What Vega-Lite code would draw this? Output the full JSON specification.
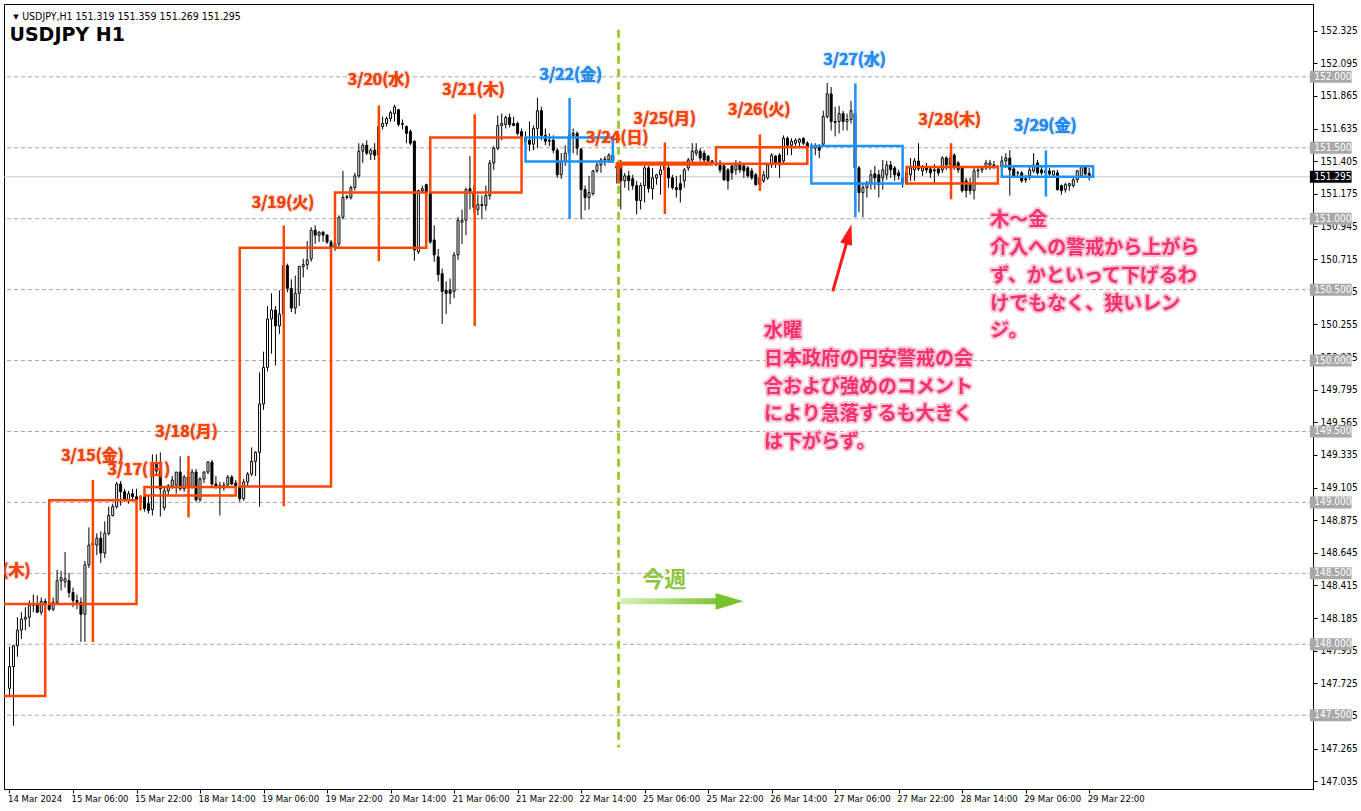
{
"$schema":"https://vega.github.io/schema/vega-lite/v6.json",
"width":1309,"height":785,
"autosize":{"type":"none"},
"padding":{"left":4,"top":4,"right":48,"bottom":22},
"background":"white",
"config":{"view":{"stroke":"black","strokeWidth":1}},
"resolve":{"axis":{"x":"independent","y":"independent"}},
"datasets":{
"h1":[
{"i":0,"o":147.690,"h":147.982,"l":147.635,"c":147.843},
{"i":1,"o":147.843,"h":147.996,"l":147.426,"c":147.989},
{"i":2,"o":147.989,"h":148.191,"l":147.912,"c":148.100},
{"i":3,"o":148.100,"h":148.226,"l":148.038,"c":148.177},
{"i":4,"o":148.177,"h":148.261,"l":148.100,"c":148.191},
{"i":5,"o":148.191,"h":148.309,"l":148.122,"c":148.275},
{"i":6,"o":148.275,"h":148.351,"l":148.226,"c":148.282},
{"i":7,"o":148.282,"h":148.344,"l":148.219,"c":148.226},
{"i":8,"o":148.226,"h":148.330,"l":148.205,"c":148.302},
{"i":9,"o":148.302,"h":148.323,"l":148.205,"c":148.282},
{"i":10,"o":148.282,"h":148.309,"l":148.233,"c":148.247},
{"i":11,"o":148.247,"h":148.330,"l":148.233,"c":148.296},
{"i":12,"o":148.296,"h":148.525,"l":148.282,"c":148.448},
{"i":13,"o":148.448,"h":148.518,"l":148.379,"c":148.469},
{"i":14,"o":148.441,"h":148.650,"l":148.400,"c":148.462},
{"i":15,"o":148.448,"h":148.504,"l":148.330,"c":148.365},
{"i":16,"o":148.365,"h":148.400,"l":148.261,"c":148.309},
{"i":17,"o":148.309,"h":148.351,"l":148.247,"c":148.296},
{"i":18,"o":148.296,"h":148.330,"l":148.017,"c":148.212},
{"i":19,"o":148.212,"h":148.588,"l":148.017,"c":148.560},
{"i":20,"o":148.560,"h":148.824,"l":148.539,"c":148.699},
{"i":21,"o":148.699,"h":148.768,"l":148.678,"c":148.713},
{"i":22,"o":148.699,"h":148.782,"l":148.629,"c":148.748},
{"i":23,"o":148.748,"h":148.796,"l":148.574,"c":148.643},
{"i":24,"o":148.643,"h":148.866,"l":148.608,"c":148.782},
{"i":25,"o":148.782,"h":148.970,"l":148.768,"c":148.908},
{"i":26,"o":148.908,"h":148.991,"l":148.901,"c":148.970},
{"i":27,"o":148.970,"h":149.144,"l":148.956,"c":149.130},
{"i":28,"o":149.130,"h":149.151,"l":148.977,"c":149.075},
{"i":29,"o":149.075,"h":149.096,"l":149.005,"c":149.019},
{"i":30,"o":149.019,"h":149.082,"l":148.991,"c":149.061},
{"i":31,"o":149.061,"h":149.096,"l":149.005,"c":149.040},
{"i":32,"o":149.040,"h":149.096,"l":148.977,"c":149.019},
{"i":33,"o":149.026,"h":149.047,"l":148.943,"c":149.040},
{"i":34,"o":149.040,"h":149.082,"l":148.936,"c":148.956},
{"i":35,"o":148.991,"h":149.047,"l":148.922,"c":148.943},
{"i":36,"o":148.949,"h":149.339,"l":148.908,"c":149.270},
{"i":37,"o":149.270,"h":149.339,"l":149.200,"c":149.221},
{"i":38,"o":149.221,"h":149.353,"l":148.901,"c":149.096},
{"i":39,"o":148.963,"h":149.110,"l":148.943,"c":149.082},
{"i":40,"o":149.082,"h":149.130,"l":149.047,"c":149.117},
{"i":41,"o":149.117,"h":149.186,"l":149.096,"c":149.158},
{"i":42,"o":149.123,"h":149.214,"l":149.061,"c":149.214},
{"i":43,"o":149.214,"h":149.325,"l":149.082,"c":149.096},
{"i":44,"o":149.096,"h":149.193,"l":149.075,"c":149.179},
{"i":45,"o":149.179,"h":149.228,"l":149.096,"c":149.110},
{"i":46,"o":149.110,"h":149.235,"l":149.096,"c":149.214},
{"i":47,"o":149.214,"h":149.235,"l":149.005,"c":149.019},
{"i":48,"o":149.019,"h":149.179,"l":149.005,"c":149.165},
{"i":49,"o":149.165,"h":149.221,"l":149.137,"c":149.214},
{"i":50,"o":149.214,"h":149.290,"l":149.200,"c":149.284},
{"i":51,"o":149.284,"h":149.298,"l":149.117,"c":149.130},
{"i":52,"o":149.130,"h":149.186,"l":149.096,"c":149.117},
{"i":53,"o":149.117,"h":149.144,"l":148.908,"c":149.103},
{"i":54,"o":149.103,"h":149.144,"l":149.082,"c":149.123},
{"i":55,"o":149.123,"h":149.193,"l":149.117,"c":149.179},
{"i":56,"o":149.179,"h":149.193,"l":149.123,"c":149.130},
{"i":57,"o":149.137,"h":149.158,"l":149.082,"c":149.110},
{"i":58,"o":149.110,"h":149.123,"l":149.005,"c":149.026},
{"i":59,"o":149.026,"h":149.165,"l":149.012,"c":149.144},
{"i":60,"o":149.144,"h":149.214,"l":149.110,"c":149.200},
{"i":61,"o":149.200,"h":149.388,"l":149.186,"c":149.290},
{"i":62,"o":149.290,"h":149.360,"l":149.186,"c":149.353},
{"i":63,"o":149.353,"h":149.917,"l":148.970,"c":149.694},
{"i":64,"o":149.694,"h":150.063,"l":149.653,"c":149.952},
{"i":65,"o":149.952,"h":150.384,"l":149.924,"c":150.293},
{"i":66,"o":150.293,"h":150.474,"l":150.049,"c":150.356},
{"i":67,"o":150.356,"h":150.384,"l":149.966,"c":150.244},
{"i":68,"o":150.244,"h":150.495,"l":150.188,"c":150.328},
{"i":69,"o":150.328,"h":150.683,"l":150.293,"c":150.669},
{"i":70,"o":150.669,"h":150.683,"l":150.481,"c":150.509},
{"i":71,"o":150.509,"h":150.572,"l":150.342,"c":150.370},
{"i":72,"o":150.370,"h":150.599,"l":150.328,"c":150.474},
{"i":73,"o":150.474,"h":150.669,"l":150.384,"c":150.662},
{"i":74,"o":150.662,"h":150.717,"l":150.585,"c":150.676},
{"i":75,"o":150.676,"h":150.843,"l":150.641,"c":150.710},
{"i":76,"o":150.717,"h":150.940,"l":150.697,"c":150.919},
{"i":77,"o":150.919,"h":150.954,"l":150.822,"c":150.884},
{"i":78,"o":150.884,"h":150.912,"l":150.836,"c":150.905},
{"i":79,"o":150.905,"h":150.912,"l":150.836,"c":150.884},
{"i":80,"o":150.884,"h":150.891,"l":150.822,"c":150.836},
{"i":81,"o":150.836,"h":150.850,"l":150.787,"c":150.794},
{"i":82,"o":150.794,"h":150.836,"l":150.773,"c":150.822},
{"i":83,"o":150.822,"h":151.024,"l":150.801,"c":151.010},
{"i":84,"o":151.010,"h":151.337,"l":150.996,"c":151.149},
{"i":85,"o":151.149,"h":151.170,"l":151.135,"c":151.156},
{"i":86,"o":151.149,"h":151.233,"l":151.135,"c":151.219},
{"i":87,"o":151.219,"h":151.323,"l":151.198,"c":151.302},
{"i":88,"o":151.302,"h":151.532,"l":151.288,"c":151.476},
{"i":89,"o":151.476,"h":151.532,"l":151.393,"c":151.518},
{"i":90,"o":151.518,"h":151.553,"l":151.448,"c":151.462},
{"i":91,"o":151.455,"h":151.497,"l":151.414,"c":151.483},
{"i":92,"o":151.483,"h":151.532,"l":151.414,"c":151.448},
{"i":93,"o":151.448,"h":151.685,"l":151.393,"c":151.650},
{"i":94,"o":151.650,"h":151.720,"l":151.629,"c":151.671},
{"i":95,"o":151.671,"h":151.720,"l":151.650,"c":151.706},
{"i":96,"o":151.706,"h":151.761,"l":151.685,"c":151.747},
{"i":97,"o":151.741,"h":151.803,"l":151.685,"c":151.789},
{"i":98,"o":151.768,"h":151.775,"l":151.650,"c":151.664},
{"i":99,"o":151.664,"h":151.699,"l":151.629,"c":151.671},
{"i":100,"o":151.650,"h":151.657,"l":151.532,"c":151.601},
{"i":101,"o":151.615,"h":151.629,"l":151.518,"c":151.532},
{"i":102,"o":151.546,"h":151.553,"l":150.704,"c":150.780},
{"i":103,"o":150.766,"h":151.205,"l":150.752,"c":151.198},
{"i":104,"o":151.198,"h":151.233,"l":151.184,"c":151.212},
{"i":105,"o":151.240,"h":151.247,"l":151.177,"c":151.184},
{"i":106,"o":151.184,"h":151.219,"l":150.822,"c":150.836},
{"i":107,"o":150.850,"h":150.954,"l":150.697,"c":150.745},
{"i":108,"o":150.731,"h":150.787,"l":150.558,"c":150.606},
{"i":109,"o":150.613,"h":150.648,"l":150.258,"c":150.488},
{"i":110,"o":150.495,"h":150.558,"l":150.328,"c":150.474},
{"i":111,"o":150.495,"h":150.578,"l":150.397,"c":150.474},
{"i":112,"o":150.488,"h":150.766,"l":150.439,"c":150.745},
{"i":113,"o":150.745,"h":151.010,"l":150.710,"c":150.989},
{"i":114,"o":150.975,"h":151.065,"l":150.822,"c":150.989},
{"i":115,"o":150.989,"h":151.219,"l":150.884,"c":151.205},
{"i":116,"o":151.212,"h":151.441,"l":151.065,"c":151.191},
{"i":117,"o":151.191,"h":151.233,"l":151.045,"c":151.079},
{"i":118,"o":151.065,"h":151.170,"l":151.024,"c":151.100},
{"i":119,"o":151.100,"h":151.163,"l":150.996,"c":151.093},
{"i":120,"o":151.093,"h":151.233,"l":151.058,"c":151.163},
{"i":121,"o":151.163,"h":151.414,"l":151.135,"c":151.393},
{"i":122,"o":151.393,"h":151.511,"l":151.344,"c":151.497},
{"i":123,"o":151.497,"h":151.727,"l":151.483,"c":151.657},
{"i":124,"o":151.657,"h":151.741,"l":151.553,"c":151.671},
{"i":125,"o":151.664,"h":151.727,"l":151.636,"c":151.713},
{"i":126,"o":151.713,"h":151.741,"l":151.643,"c":151.664},
{"i":127,"o":151.671,"h":151.720,"l":151.650,"c":151.657},
{"i":128,"o":151.671,"h":151.685,"l":151.587,"c":151.601},
{"i":129,"o":151.615,"h":151.636,"l":151.567,"c":151.573},
{"i":130,"o":151.573,"h":151.615,"l":151.518,"c":151.546},
{"i":131,"o":151.553,"h":151.685,"l":151.476,"c":151.525},
{"i":132,"o":151.525,"h":151.657,"l":151.483,"c":151.636},
{"i":133,"o":151.636,"h":151.852,"l":151.497,"c":151.761},
{"i":134,"o":151.761,"h":151.789,"l":151.553,"c":151.587},
{"i":135,"o":151.587,"h":151.636,"l":151.518,"c":151.546},
{"i":136,"o":151.546,"h":151.601,"l":151.511,"c":151.553},
{"i":137,"o":151.553,"h":151.587,"l":151.462,"c":151.483},
{"i":138,"o":151.483,"h":151.497,"l":151.288,"c":151.309},
{"i":139,"o":151.309,"h":151.462,"l":151.281,"c":151.407},
{"i":140,"o":151.407,"h":151.518,"l":151.372,"c":151.462},
{"i":141,"o":151.462,"h":151.622,"l":151.441,"c":151.587},
{"i":142,"o":151.587,"h":151.636,"l":151.462,"c":151.601},
{"i":143,"o":151.601,"h":151.615,"l":151.448,"c":151.497},
{"i":144,"o":151.490,"h":151.497,"l":150.996,"c":151.205},
{"i":145,"o":151.205,"h":151.233,"l":151.058,"c":151.149},
{"i":146,"o":151.149,"h":151.302,"l":151.065,"c":151.184},
{"i":147,"o":151.177,"h":151.344,"l":151.163,"c":151.337},
{"i":148,"o":151.337,"h":151.407,"l":151.323,"c":151.379},
{"i":149,"o":151.379,"h":151.428,"l":151.323,"c":151.414},
{"i":150,"o":151.414,"h":151.441,"l":151.372,"c":151.421},
{"i":151,"o":151.414,"h":151.462,"l":151.393,"c":151.448},
{"i":152,"o":151.448,"h":151.462,"l":151.393,"c":151.407},
{"i":153,"o":151.358,"h":151.400,"l":151.247,"c":151.372},
{"i":154,"o":151.372,"h":151.414,"l":151.065,"c":151.267},
{"i":155,"o":151.267,"h":151.323,"l":151.219,"c":151.302},
{"i":156,"o":151.302,"h":151.337,"l":151.198,"c":151.267},
{"i":157,"o":151.281,"h":151.309,"l":151.205,"c":151.233},
{"i":158,"o":151.233,"h":151.267,"l":151.031,"c":151.128},
{"i":159,"o":151.128,"h":151.253,"l":151.065,"c":151.233},
{"i":160,"o":151.233,"h":151.372,"l":151.114,"c":151.358},
{"i":161,"o":151.358,"h":151.372,"l":151.184,"c":151.212},
{"i":162,"o":151.212,"h":151.358,"l":151.135,"c":151.288},
{"i":163,"o":151.288,"h":151.316,"l":151.240,"c":151.309},
{"i":164,"o":151.309,"h":151.372,"l":151.170,"c":151.344},
{"i":165,"o":151.344,"h":151.393,"l":151.309,"c":151.372},
{"i":166,"o":151.358,"h":151.386,"l":151.219,"c":151.288},
{"i":167,"o":151.288,"h":151.309,"l":151.205,"c":151.219},
{"i":168,"o":151.219,"h":151.302,"l":151.149,"c":151.205},
{"i":169,"o":151.247,"h":151.309,"l":151.114,"c":151.205},
{"i":170,"o":151.267,"h":151.358,"l":151.219,"c":151.344},
{"i":171,"o":151.358,"h":151.428,"l":151.337,"c":151.414},
{"i":172,"o":151.414,"h":151.532,"l":151.393,"c":151.476},
{"i":173,"o":151.462,"h":151.532,"l":151.441,"c":151.483},
{"i":174,"o":151.476,"h":151.497,"l":151.407,"c":151.428},
{"i":175,"o":151.462,"h":151.483,"l":151.393,"c":151.414},
{"i":176,"o":151.441,"h":151.448,"l":151.379,"c":151.407},
{"i":177,"o":151.407,"h":151.414,"l":151.379,"c":151.386},
{"i":178,"o":151.393,"h":151.407,"l":151.372,"c":151.379},
{"i":179,"o":151.393,"h":151.414,"l":151.323,"c":151.344},
{"i":180,"o":151.372,"h":151.379,"l":151.267,"c":151.274},
{"i":181,"o":151.344,"h":151.358,"l":151.205,"c":151.267},
{"i":182,"o":151.372,"h":151.393,"l":151.274,"c":151.323},
{"i":183,"o":151.344,"h":151.414,"l":151.309,"c":151.379},
{"i":184,"o":151.386,"h":151.407,"l":151.323,"c":151.344},
{"i":185,"o":151.372,"h":151.386,"l":151.288,"c":151.337},
{"i":186,"o":151.358,"h":151.372,"l":151.288,"c":151.302},
{"i":187,"o":151.337,"h":151.358,"l":151.274,"c":151.288},
{"i":188,"o":151.309,"h":151.323,"l":151.233,"c":151.240},
{"i":189,"o":151.240,"h":151.302,"l":151.198,"c":151.288},
{"i":190,"o":151.267,"h":151.337,"l":151.253,"c":151.309},
{"i":191,"o":151.288,"h":151.393,"l":151.274,"c":151.379},
{"i":192,"o":151.379,"h":151.462,"l":151.358,"c":151.448},
{"i":193,"o":151.441,"h":151.448,"l":151.358,"c":151.393},
{"i":194,"o":151.448,"h":151.462,"l":151.288,"c":151.379},
{"i":195,"o":151.407,"h":151.587,"l":151.393,"c":151.567},
{"i":196,"o":151.567,"h":151.580,"l":151.448,"c":151.518},
{"i":197,"o":151.518,"h":151.567,"l":151.448,"c":151.546},
{"i":198,"o":151.532,"h":151.567,"l":151.497,"c":151.553},
{"i":199,"o":151.539,"h":151.567,"l":151.511,"c":151.560},
{"i":200,"o":151.567,"h":151.573,"l":151.518,"c":151.532},
{"i":201,"o":151.532,"h":151.546,"l":151.497,"c":151.504},
{"i":202,"o":151.511,"h":151.532,"l":151.462,"c":151.497},
{"i":203,"o":151.497,"h":151.532,"l":151.448,"c":151.511},
{"i":204,"o":151.511,"h":151.525,"l":151.428,"c":151.483},
{"i":205,"o":151.525,"h":151.761,"l":151.511,"c":151.720},
{"i":206,"o":151.720,"h":151.956,"l":151.706,"c":151.880},
{"i":207,"o":151.880,"h":151.928,"l":151.622,"c":151.685},
{"i":208,"o":151.685,"h":151.789,"l":151.580,"c":151.678},
{"i":209,"o":151.685,"h":151.796,"l":151.601,"c":151.741},
{"i":210,"o":151.741,"h":151.761,"l":151.622,"c":151.685},
{"i":211,"o":151.685,"h":151.741,"l":151.622,"c":151.699},
{"i":212,"o":151.699,"h":151.831,"l":151.671,"c":151.761},
{"i":213,"o":151.741,"h":151.775,"l":151.114,"c":151.358},
{"i":214,"o":151.358,"h":151.372,"l":151.045,"c":151.184},
{"i":215,"o":151.184,"h":151.253,"l":151.010,"c":151.219},
{"i":216,"o":151.219,"h":151.267,"l":151.149,"c":151.253},
{"i":217,"o":151.253,"h":151.344,"l":151.205,"c":151.309},
{"i":218,"o":151.316,"h":151.372,"l":151.205,"c":151.288},
{"i":219,"o":151.309,"h":151.344,"l":151.149,"c":151.240},
{"i":220,"o":151.288,"h":151.414,"l":151.205,"c":151.344},
{"i":221,"o":151.309,"h":151.407,"l":151.274,"c":151.379},
{"i":222,"o":151.379,"h":151.407,"l":151.288,"c":151.344},
{"i":223,"o":151.358,"h":151.372,"l":151.267,"c":151.309},
{"i":224,"o":151.323,"h":151.344,"l":151.274,"c":151.302},
{"i":225,"o":151.288,"h":151.323,"l":151.219,"c":151.247},
{"i":226,"o":151.247,"h":151.372,"l":151.240,"c":151.323},
{"i":227,"o":151.309,"h":151.428,"l":151.267,"c":151.358},
{"i":228,"o":151.344,"h":151.428,"l":151.267,"c":151.407},
{"i":229,"o":151.407,"h":151.532,"l":151.337,"c":151.351},
{"i":230,"o":151.337,"h":151.379,"l":151.302,"c":151.358},
{"i":231,"o":151.358,"h":151.393,"l":151.323,"c":151.344},
{"i":232,"o":151.351,"h":151.372,"l":151.288,"c":151.323},
{"i":233,"o":151.344,"h":151.386,"l":151.253,"c":151.337},
{"i":234,"o":151.351,"h":151.372,"l":151.302,"c":151.323},
{"i":235,"o":151.344,"h":151.441,"l":151.323,"c":151.428},
{"i":236,"o":151.428,"h":151.441,"l":151.344,"c":151.379},
{"i":237,"o":151.379,"h":151.462,"l":151.337,"c":151.428},
{"i":238,"o":151.448,"h":151.462,"l":151.344,"c":151.372},
{"i":239,"o":151.393,"h":151.407,"l":151.323,"c":151.344},
{"i":240,"o":151.358,"h":151.372,"l":151.184,"c":151.198},
{"i":241,"o":151.267,"h":151.288,"l":151.149,"c":151.198},
{"i":242,"o":151.253,"h":151.288,"l":151.170,"c":151.198},
{"i":243,"o":151.198,"h":151.358,"l":151.135,"c":151.337},
{"i":244,"o":151.337,"h":151.372,"l":151.288,"c":151.344},
{"i":245,"o":151.344,"h":151.372,"l":151.323,"c":151.358},
{"i":246,"o":151.358,"h":151.414,"l":151.344,"c":151.393},
{"i":247,"o":151.379,"h":151.414,"l":151.344,"c":151.393},
{"i":248,"o":151.379,"h":151.407,"l":151.351,"c":151.365},
{"i":249,"o":151.365,"h":151.379,"l":151.344,"c":151.365},
{"i":250,"o":151.365,"h":151.441,"l":151.337,"c":151.407},
{"i":251,"o":151.407,"h":151.462,"l":151.358,"c":151.428},
{"i":252,"o":151.428,"h":151.483,"l":151.163,"c":151.344},
{"i":253,"o":151.351,"h":151.372,"l":151.288,"c":151.302},
{"i":254,"o":151.323,"h":151.337,"l":151.288,"c":151.323},
{"i":255,"o":151.323,"h":151.337,"l":151.253,"c":151.267},
{"i":256,"o":151.281,"h":151.309,"l":151.253,"c":151.274},
{"i":257,"o":151.302,"h":151.372,"l":151.274,"c":151.344},
{"i":258,"o":151.337,"h":151.462,"l":151.323,"c":151.379},
{"i":259,"o":151.393,"h":151.414,"l":151.309,"c":151.323},
{"i":260,"o":151.344,"h":151.372,"l":151.309,"c":151.323},
{"i":261,"o":151.337,"h":151.358,"l":151.288,"c":151.323},
{"i":262,"o":151.337,"h":151.358,"l":151.302,"c":151.316},
{"i":263,"o":151.309,"h":151.337,"l":151.288,"c":151.337},
{"i":264,"o":151.323,"h":151.344,"l":151.198,"c":151.205},
{"i":265,"o":151.233,"h":151.240,"l":151.170,"c":151.198},
{"i":266,"o":151.205,"h":151.253,"l":151.184,"c":151.240},
{"i":267,"o":151.233,"h":151.253,"l":151.198,"c":151.247},
{"i":268,"o":151.233,"h":151.288,"l":151.219,"c":151.274},
{"i":269,"o":151.274,"h":151.344,"l":151.253,"c":151.337},
{"i":270,"o":151.302,"h":151.379,"l":151.288,"c":151.372},
{"i":271,"o":151.372,"h":151.379,"l":151.302,"c":151.316},
{"i":272,"o":151.319,"h":151.359,"l":151.269,"c":151.295}
],
"day":[
{"d":"3/14","s":-14,"e":9,"m":-2.5,"o":147.635,"h":148.36,"l":147.42,"c":148.284},
{"d":"3/15","s":10,"e":32,"m":21,"o":148.284,"h":149.159,"l":148.017,"c":149.015},
{"d":"3/17","s":33,"e":33,"m":33,"o":149.0,"h":149.05,"l":148.945,"c":149.04},
{"d":"3/18","s":34,"e":57,"m":45.1,"o":149.049,"h":149.328,"l":148.894,"c":149.108},
{"d":"3/19","s":58,"e":81,"m":69.1,"o":149.112,"h":150.952,"l":148.973,"c":150.796},
{"d":"3/20","s":82,"e":105,"m":93.05,"o":150.796,"h":151.798,"l":150.701,"c":151.184},
{"d":"3/21","s":106,"e":129,"m":117.2,"o":151.184,"h":151.736,"l":150.244,"c":151.573},
{"d":"3/22","s":130,"e":152,"m":141.1,"o":151.573,"h":151.852,"l":150.998,"c":151.404},
{"d":"3/24","s":153,"e":153.9,"m":153.45,"o":151.36,"h":151.397,"l":151.249,"c":151.39},
{"d":"3/25","s":154,"e":177,"m":165.1,"o":151.382,"h":151.537,"l":151.033,"c":151.394},
{"d":"3/26","s":178,"e":201,"m":189.05,"o":151.388,"h":151.594,"l":151.196,"c":151.504},
{"d":"3/27","s":202,"e":225,"m":213.1,"o":151.513,"h":151.954,"l":151.010,"c":151.248},
{"d":"3/28","s":226,"e":249,"m":237.2,"o":151.248,"h":151.532,"l":151.137,"c":151.365},
{"d":"3/29","s":250,"e":273,"m":261.1,"o":151.370,"h":151.481,"l":151.156,"c":151.295}
],
"levels":[
{"lv":147.5,"t":"147.500"},{"lv":148.0,"t":"148.000"},{"lv":148.5,"t":"148.500"},{"lv":149.0,"t":"149.000"},{"lv":149.5,"t":"149.500"},
{"lv":150.0,"t":"150.000"},{"lv":150.5,"t":"150.500"},{"lv":151.0,"t":"151.000"},{"lv":151.5,"t":"151.500"},{"lv":152.0,"t":"152.000"}
],
"labels":[
{"t":"3/14(木)","x":-2.6,"y":148.519,"dir":"up"},
{"t":"3/15(金)","x":20.9,"y":149.326,"dir":"up"},
{"t":"3/17(日)","x":32.6,"y":149.228,"dir":"up"},
{"t":"3/18(月)","x":44.6,"y":149.493,"dir":"up"},
{"t":"3/19(火)","x":68.9,"y":151.114,"dir":"up"},
{"t":"3/20(水)","x":93.1,"y":151.977,"dir":"up"},
{"t":"3/21(木)","x":116.9,"y":151.908,"dir":"up"},
{"t":"3/22(金)","x":141.4,"y":152.012,"dir":"down"},
{"t":"3/24(日)","x":153.1,"y":151.567,"dir":"up"},
{"t":"3/25(月)","x":165.1,"y":151.706,"dir":"up"},
{"t":"3/26(火)","x":188.9,"y":151.768,"dir":"up"},
{"t":"3/27(水)","x":212.9,"y":152.116,"dir":"down"},
{"t":"3/28(木)","x":236.9,"y":151.699,"dir":"up"},
{"t":"3/29(金)","x":260.9,"y":151.650,"dir":"down"}
],
"notes":[
{"t":"水曜\n日本政府の円安警戒の会\n合および強めのコメント\nにより急落するも大きく\nは下がらず。","x":190.1,"y":150.209},
{"t":"木〜金\n介入への警戒から上がら\nず、かといって下げるわ\nけでもなく、狭いレン\nジ。","x":247.1,"y":150.989}
]
},
"layer":[
{"data":{"name":"levels"},
 "mark":{"type":"rule","color":"#a8a8a8","strokeDash":[4,3],"strokeWidth":1},
 "encoding":{"y":{"field":"lv","type":"quantitative","scale":{"domain":[147.0153,152.4781],"nice":false,"zero":false},"axis":null}}},
{"data":{"values":[{"lv":151.295}]},
 "mark":{"type":"rule","color":"#c8c8c8","strokeWidth":1},
 "encoding":{"y":{"field":"lv","type":"quantitative","scale":{"domain":[147.0153,152.4781],"nice":false,"zero":false},"axis":null}}},
{"data":{"values":[{"x":153.45,"y":152.332,"y2":147.273}]},
 "mark":{"type":"rule","color":"#9ACD32","strokeWidth":3,"strokeDash":[8,5]},
 "encoding":{
  "x":{"field":"x","type":"quantitative","scale":{"domain":[-0.125,327.125],"nice":false,"zero":false},"axis":null},
  "y":{"field":"y","type":"quantitative","scale":{"domain":[147.0153,152.4781],"nice":false,"zero":false},"axis":null},
  "y2":{"field":"y2"}}},
{"data":{"name":"h1"},
 "mark":{"type":"rule","color":"black","strokeWidth":1},
 "encoding":{
  "x":{"field":"i","type":"quantitative","scale":{"domain":[-0.125,327.125],"nice":false,"zero":false},
   "axis":{"values":[0,16,32,48,64,80,96,112,128,144,160,176,192,208,224,240,256,272],
    "labelExpr":"['14 Mar 2024','15 Mar 06:00','15 Mar 22:00','18 Mar 14:00','19 Mar 06:00','19 Mar 22:00','20 Mar 14:00','21 Mar 06:00','21 Mar 22:00','22 Mar 14:00','25 Mar 06:00','25 Mar 22:00','26 Mar 14:00','27 Mar 06:00','27 Mar 22:00','28 Mar 14:00','29 Mar 06:00','29 Mar 22:00'][round(datum.value/16)]",
    "title":null,"grid":false,"domainColor":"black","tickColor":"black","tickSize":4,"labelAlign":"left","labelBaseline":"top","labelPadding":0,"labelOffset":-2,
    "labelFont":"Tahoma, DejaVu Sans Condensed, Liberation Sans","labelFontSize":9.5,"labelColor":"black","labelOverlap":false,"labelFlush":false}},
  "y":{"field":"l","type":"quantitative","scale":{"domain":[147.0153,152.4781],"nice":false,"zero":false},
   "axis":{"orient":"right","values":[147.035,147.265,147.495,147.725,147.955,148.185,148.415,148.645,148.875,149.105,149.335,149.565,149.795,150.025,150.255,150.485,150.715,150.945,151.175,151.405,151.635,151.865,152.095,152.325],
    "format":".3f","title":null,"grid":false,"domainColor":"black","tickColor":"black","tickSize":4,"labelPadding":3,
    "labelFont":"Tahoma, DejaVu Sans Condensed, Liberation Sans","labelFontSize":10,"labelColor":"black","labelOverlap":false,"labelFlush":false}},
  "y2":{"field":"h"}}},
{"data":{"name":"h1"},
 "mark":{"type":"bar","size":2,"stroke":"black","strokeWidth":1},
 "encoding":{
  "x":{"field":"i","type":"quantitative","scale":{"domain":[-0.125,327.125],"nice":false,"zero":false},"axis":null},
  "y":{"field":"o","type":"quantitative","scale":{"domain":[147.0153,152.4781],"nice":false,"zero":false},"axis":null},
  "y2":{"field":"c"},
  "fill":{"condition":{"test":"datum.c > datum.o","value":"white"},"value":"black"}}},
{"data":{"name":"day"},
 "mark":{"type":"rect","filled":false,"strokeWidth":2.5,"clip":true},
 "encoding":{
  "x":{"field":"s","type":"quantitative","scale":{"domain":[-0.125,327.125],"nice":false,"zero":false},"axis":null},
  "x2":{"field":"e"},
  "y":{"field":"o","type":"quantitative","scale":{"domain":[147.0153,152.4781],"nice":false,"zero":false},"axis":null},
  "y2":{"field":"c"},
  "stroke":{"condition":{"test":"datum.c >= datum.o","value":"#FF4500"},"value":"#1E90FF"}}},
{"data":{"name":"day"},
 "mark":{"type":"rule","strokeWidth":2.5,"clip":true},
 "encoding":{
  "x":{"field":"m","type":"quantitative","scale":{"domain":[-0.125,327.125],"nice":false,"zero":false},"axis":null},
  "y":{"field":"l","type":"quantitative","scale":{"domain":[147.0153,152.4781],"nice":false,"zero":false},"axis":null},
  "y2":{"field":"h"},
  "color":{"condition":{"test":"datum.c >= datum.o","value":"#FF4500"},"value":"#1E90FF"}}},
{"data":{"name":"labels"},
 "mark":{"type":"text","font":"Noto Sans CJK JP","fontWeight":"bold","fontSize":16,"align":"center","baseline":"middle","clip":true,"strokeWidth":3,"strokeOpacity":0.25,"strokeJoin":"round"},
 "encoding":{
  "x":{"field":"x","type":"quantitative","scale":{"domain":[-0.125,327.125],"nice":false,"zero":false},"axis":null},
  "y":{"field":"y","type":"quantitative","scale":{"domain":[147.0153,152.4781],"nice":false,"zero":false},"axis":null},
  "text":{"field":"t"},
  "stroke":{"field":"dir","type":"nominal","scale":{"domain":["up","down"],"range":["#FF7050","#50A8FF"]},"legend":null}}},
{"data":{"name":"labels"},
 "mark":{"type":"text","font":"Noto Sans CJK JP","fontWeight":"bold","fontSize":16,"align":"center","baseline":"middle","clip":true},
 "encoding":{
  "x":{"field":"x","type":"quantitative","scale":{"domain":[-0.125,327.125],"nice":false,"zero":false},"axis":null},
  "y":{"field":"y","type":"quantitative","scale":{"domain":[147.0153,152.4781],"nice":false,"zero":false},"axis":null},
  "text":{"field":"t"},
  "color":{"field":"dir","type":"nominal","scale":{"domain":["up","down"],"range":["#FF4500","#1E90FF"]},"legend":null}}},
{"data":{"name":"notes"},
 "mark":{"type":"text","font":"Noto Sans CJK JP","fontWeight":"bold","fontSize":19,"align":"left","baseline":"middle","lineBreak":"\n","lineHeight":27.8,"stroke":"#FFC4D6","strokeWidth":4,"strokeJoin":"round","fill":"#FFC4D6"},
 "encoding":{
  "x":{"field":"x","type":"quantitative","scale":{"domain":[-0.125,327.125],"nice":false,"zero":false},"axis":null},
  "y":{"field":"y","type":"quantitative","scale":{"domain":[147.0153,152.4781],"nice":false,"zero":false},"axis":null},
  "text":{"field":"t"}}},
{"data":{"name":"notes"},
 "mark":{"type":"text","font":"Noto Sans CJK JP","fontWeight":"bold","fontSize":19,"align":"left","baseline":"middle","lineBreak":"\n","lineHeight":27.8,"fill":"#F0326E"},
 "encoding":{
  "x":{"field":"x","type":"quantitative","scale":{"domain":[-0.125,327.125],"nice":false,"zero":false},"axis":null},
  "y":{"field":"y","type":"quantitative","scale":{"domain":[147.0153,152.4781],"nice":false,"zero":false},"axis":null},
  "text":{"field":"t"}}},
{"data":{"values":[{"t":"今週","x":159.4,"y":148.456}]},
 "mark":{"type":"text","font":"Noto Sans CJK JP","fontWeight":"bold","fontSize":22,"align":"left","baseline":"middle","fill":"#8CC63F"},
 "encoding":{
  "x":{"field":"x","type":"quantitative","scale":{"domain":[-0.125,327.125],"nice":false,"zero":false},"axis":null},
  "y":{"field":"y","type":"quantitative","scale":{"domain":[147.0153,152.4781],"nice":false,"zero":false},"axis":null},
  "text":{"field":"t"}}},
{"data":{"values":[{"x":153.9,"x2":180.0,"y":148.303}]},
 "mark":{"type":"bar","size":6,"orient":"horizontal","fill":{"gradient":"linear","x1":0,"y1":0,"x2":1,"y2":0,"stops":[{"offset":0,"color":"#D6EFB8"},{"offset":1,"color":"#78C22C"}]}},
 "encoding":{
  "x":{"field":"x","type":"quantitative","scale":{"domain":[-0.125,327.125],"nice":false,"zero":false},"axis":null},
  "x2":{"field":"x2"},
  "y":{"field":"y","type":"quantitative","scale":{"domain":[147.0153,152.4781],"nice":false,"zero":false},"axis":null}}},
{"data":{"values":[{"x":181.4,"y":148.303}]},
 "mark":{"type":"point","shape":"M -1 -0.6 L 1 0 L -1 0.6 Z","size":784,"filled":true,"fill":"#78C22C","opacity":1,"strokeWidth":0},
 "encoding":{
  "x":{"field":"x","type":"quantitative","scale":{"domain":[-0.125,327.125],"nice":false,"zero":false},"axis":null},
  "y":{"field":"y","type":"quantitative","scale":{"domain":[147.0153,152.4781],"nice":false,"zero":false},"axis":null}}},
{"data":{"values":[{"x":207.4,"y":150.488,"x2":211.1,"y2":150.850}]},
 "mark":{"type":"rule","color":"#FF1A1A","strokeWidth":3},
 "encoding":{
  "x":{"field":"x","type":"quantitative","scale":{"domain":[-0.125,327.125],"nice":false,"zero":false},"axis":null},
  "y":{"field":"y","type":"quantitative","scale":{"domain":[147.0153,152.4781],"nice":false,"zero":false},"axis":null},
  "x2":{"field":"x2"},"y2":{"field":"y2"}}},
{"data":{"values":[{"x":211.45,"y":150.891}]},
 "mark":{"type":"point","shape":"M 0 -1 L 0.6 1 L -0.6 1 Z","size":420,"angle":15,"filled":true,"fill":"#FF1A1A","opacity":1,"strokeWidth":0},
 "encoding":{
  "x":{"field":"x","type":"quantitative","scale":{"domain":[-0.125,327.125],"nice":false,"zero":false},"axis":null},
  "y":{"field":"y","type":"quantitative","scale":{"domain":[147.0153,152.4781],"nice":false,"zero":false},"axis":null}}},
{"data":{"name":"levels"},
 "mark":{"type":"bar","size":12,"orient":"horizontal","color":"#A8A8A8","clip":false},
 "encoding":{
  "x":{"datum":327.6,"type":"quantitative","scale":{"domain":[-0.125,327.125],"nice":false,"zero":false},"axis":null},
  "x2":{"datum":338.1},
  "y":{"field":"lv","type":"quantitative","scale":{"domain":[147.0153,152.4781],"nice":false,"zero":false},"axis":null}}},
{"data":{"values":[{"lv":151.295}]},
 "mark":{"type":"bar","size":12,"orient":"horizontal","color":"black","clip":false},
 "encoding":{
  "x":{"datum":327.6,"type":"quantitative","scale":{"domain":[-0.125,327.125],"nice":false,"zero":false},"axis":null},
  "x2":{"datum":338.1},
  "y":{"field":"lv","type":"quantitative","scale":{"domain":[147.0153,152.4781],"nice":false,"zero":false},"axis":null}}},
{"data":{"values":[{"lv":147.5,"t":"147.500"},{"lv":148.0,"t":"148.000"},{"lv":148.5,"t":"148.500"},{"lv":149.0,"t":"149.000"},{"lv":149.5,"t":"149.500"},{"lv":150.0,"t":"150.000"},{"lv":150.5,"t":"150.500"},{"lv":151.0,"t":"151.000"},{"lv":151.5,"t":"151.500"},{"lv":152.0,"t":"152.000"},{"lv":151.295,"t":"151.295"}]},
 "mark":{"type":"text","align":"left","baseline":"middle","font":"Tahoma, DejaVu Sans Condensed, Liberation Sans","fontSize":10,"fill":"white","clip":false},
 "encoding":{
  "x":{"datum":328.7,"type":"quantitative","scale":{"domain":[-0.125,327.125],"nice":false,"zero":false},"axis":null},
  "y":{"field":"lv","type":"quantitative","scale":{"domain":[147.0153,152.4781],"nice":false,"zero":false},"axis":null},
  "text":{"field":"t"}}},
{"data":{"values":[{"t":"USDJPY,H1  151.319 151.359 151.269 151.295","x":3.2,"y":152.422}]},
 "mark":{"type":"text","align":"left","baseline":"middle","font":"Tahoma, DejaVu Sans Condensed, Liberation Sans","fontSize":10.5,"fill":"black"},
 "encoding":{
  "x":{"field":"x","type":"quantitative","scale":{"domain":[-0.125,327.125],"nice":false,"zero":false},"axis":null},
  "y":{"field":"y","type":"quantitative","scale":{"domain":[147.0153,152.4781],"nice":false,"zero":false},"axis":null},
  "text":{"field":"t"}}},
{"data":{"values":[{"t":"▼","x":1.6,"y":152.420}]},
 "mark":{"type":"text","align":"center","baseline":"middle","font":"DejaVu Sans","fontSize":7,"fill":"black"},
 "encoding":{
  "x":{"field":"x","type":"quantitative","scale":{"domain":[-0.125,327.125],"nice":false,"zero":false},"axis":null},
  "y":{"field":"y","type":"quantitative","scale":{"domain":[147.0153,152.4781],"nice":false,"zero":false},"axis":null},
  "text":{"field":"t"}}},
{"data":{"values":[{"t":"USDJPY H1","x":0.0,"y":152.297}]},
 "mark":{"type":"text","align":"left","baseline":"middle","font":"DejaVu Sans","fontWeight":"bold","fontSize":19,"fill":"black"},
 "encoding":{
  "x":{"field":"x","type":"quantitative","scale":{"domain":[-0.125,327.125],"nice":false,"zero":false},"axis":null},
  "y":{"field":"y","type":"quantitative","scale":{"domain":[147.0153,152.4781],"nice":false,"zero":false},"axis":null},
  "text":{"field":"t"}}}
]
}
